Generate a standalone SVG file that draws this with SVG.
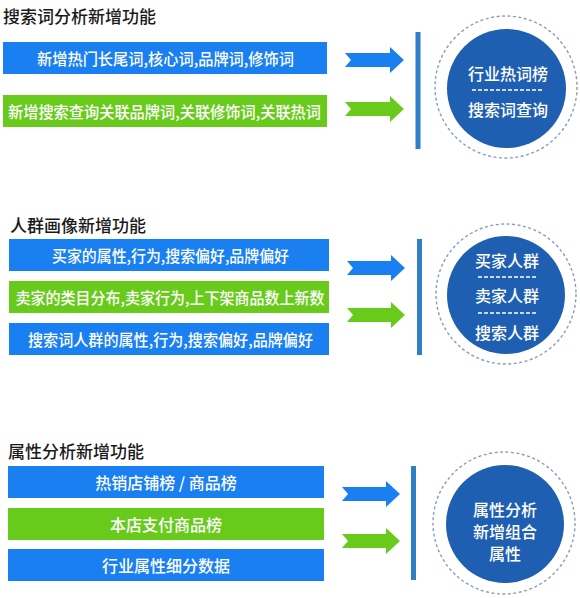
<svg xmlns="http://www.w3.org/2000/svg" width="580" height="598" viewBox="0 0 580 598">
<style>
.title{font-family:"Noto Sans CJK SC","Noto Sans",sans-serif;font-size:17px;font-weight:500;fill:#1a1a1a;dominant-baseline:central;}
.bt{font-family:"Noto Sans CJK SC","Noto Sans",sans-serif;font-size:16px;font-weight:500;fill:#ffffff;text-anchor:middle;dominant-baseline:central;}
.ct{font-family:"Noto Sans CJK SC","Noto Sans",sans-serif;font-size:16px;font-weight:500;fill:#ffffff;text-anchor:middle;dominant-baseline:central;}
.blue{fill:#1a80f2;}
.green{fill:#68cb1c;}
.vline{stroke:#2f7fc8;stroke-width:5;}
.ring{fill:none;stroke:#8a9cbc;stroke-width:1.4;stroke-dasharray:3 2.5;}
.core{fill:#1f5fb2;}
.div{stroke:#ffffff;stroke-width:1.4;stroke-dasharray:4 2;}
</style>

<g id="section1">
  <text class="title" x="3" y="15.5">搜索词分析新增功能</text>
  <g id="s1-bar1"><rect class="blue" x="3" y="42" width="324" height="32"/><text class="bt" x="165.5" y="58" font-size="15" textLength="257" lengthAdjust="spacingAndGlyphs">新增热门长尾词,核心词,品牌词,修饰词</text></g>
  <g id="s1-bar2"><rect class="green" x="3" y="95" width="324" height="32"/><text class="bt" x="164.5" y="111" textLength="313" lengthAdjust="spacingAndGlyphs">新增搜索查询关联品牌词,关联修饰词,关联热词</text></g>
  <g id="s1-circle">
    <circle class="ring" cx="506" cy="87" r="71"/>
    <circle class="core" cx="506.5" cy="88.5" r="59.5"/>
    <text class="ct" x="508" y="72.5">行业热词榜</text>
    <line class="div" x1="472" y1="90" x2="543" y2="90"/>
    <text class="ct" x="508" y="108.5">搜索词查询</text>
  </g>
</g>

<g id="section2">
  <text class="title" x="10" y="224.5">人群画像新增功能</text>
  <g id="s2-bar1"><rect class="blue" x="9" y="239" width="320" height="32"/><text class="bt" x="170.5" y="255" textLength="237" lengthAdjust="spacingAndGlyphs">买家的属性,行为,搜索偏好,品牌偏好</text></g>
  <g id="s2-bar2"><rect class="green" x="9" y="281" width="320" height="32"/><text class="bt" x="170" y="297" textLength="309" lengthAdjust="spacingAndGlyphs">卖家的类目分布,卖家行为,上下架商品数上新数</text></g>
  <g id="s2-bar3"><rect class="blue" x="9" y="323" width="320" height="32"/><text class="bt" x="170.5" y="339" textLength="285" lengthAdjust="spacingAndGlyphs">搜索词人群的属性,行为,搜索偏好,品牌偏好</text></g>
  <g id="s2-circle">
    <circle class="ring" cx="506" cy="294" r="70"/>
    <circle class="core" cx="506" cy="295" r="59"/>
    <text class="ct" x="507" y="259.5">买家人群</text>
    <line class="div" x1="478" y1="277" x2="537" y2="277"/>
    <text class="ct" x="507" y="295">卖家人群</text>
    <line class="div" x1="478" y1="313" x2="537" y2="313"/>
    <text class="ct" x="507" y="331.5">搜索人群</text>
  </g>
</g>

<g id="section3">
  <text class="title" x="8" y="450.5">属性分析新增功能</text>
  <g id="s3-bar1"><rect class="blue" x="8" y="466" width="316" height="32"/><text class="bt" x="166" y="482" font-size="15">热销店铺榜 / 商品榜</text></g>
  <g id="s3-bar2"><rect class="green" x="8" y="508" width="316" height="32"/><text class="bt" x="166" y="524" font-size="15">本店支付商品榜</text></g>
  <g id="s3-bar3"><rect class="blue" x="8" y="549" width="316" height="32"/><text class="bt" x="166" y="565" font-size="15">行业属性细分数据</text></g>
  <g id="s3-circle">
    <circle class="ring" cx="504" cy="523" r="71"/>
    <circle class="core" cx="505" cy="524" r="59"/>
    <text class="ct" x="505" y="509" font-size="15">属性分析</text>
    <text class="ct" x="505" y="531" font-size="15">新增组合</text>
    <text class="ct" x="505" y="553" font-size="15">属性</text>
  </g>
</g>

<g id="connectors">
  <polygon class="blue" points="345,53 390,53 390,47 404,60 390,73 390,67 345,67 351,60"/>
  <polygon class="green" points="345,102 390,102 390,96 404,109 390,122 390,116 345,116 351,109"/>
  <line class="vline" x1="418" y1="32" x2="418" y2="149"/>

  <polygon class="blue" points="347,261 391,261 391,255 405,268 391,281 391,275 347,275 353,268"/>
  <polygon class="green" points="347,308 391,308 391,302 405,315 391,328 391,322 347,322 353,315"/>
  <line class="vline" x1="419.5" y1="239" x2="419.5" y2="355"/>

  <polygon class="blue" points="342,487 386,487 386,481 400,494 386,507 386,501 342,501 348,494"/>
  <polygon class="green" points="342,534 386,534 386,528 400,541 386,554 386,548 342,548 348,541"/>
  <line class="vline" x1="413.5" y1="466" x2="413.5" y2="580"/>
</g>
</svg>
